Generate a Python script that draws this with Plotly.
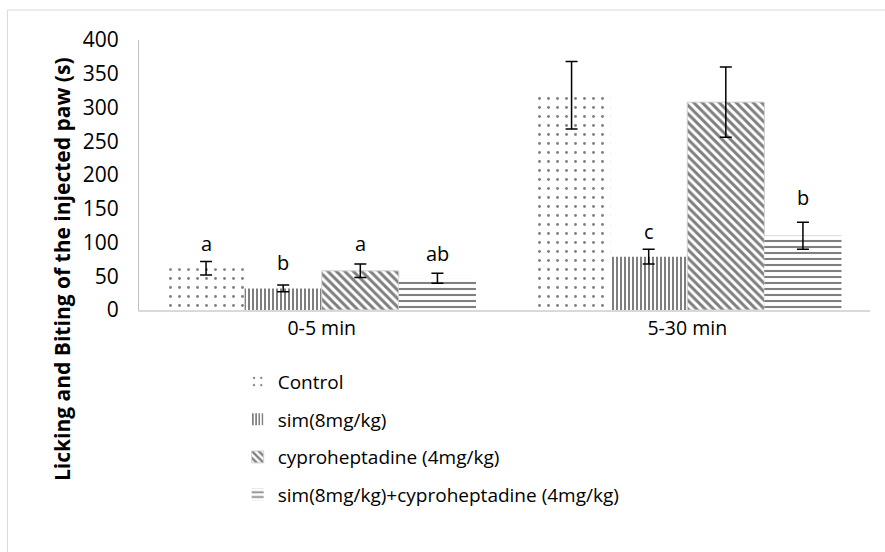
import plotly.graph_objects as go

categories = ["0-5 min", "5-30 min"]
series_names = ["Control", "sim(8mg/kg)", "cyproheptadine (4mg/kg)",
                "sim(8mg/kg)+cyproheptadine (4mg/kg)"]
control = [62, 318]
sim = [32, 79]
cypro = [58, 308]
combo = [47, 110]
control_err = [10, 50]
sim_err = [5, 11]
cypro_err = [10, 52]
combo_err = [7.5, 20]
# significance letters and the heights (data units) where they sit
control_letters = ["a", "a"]
sim_letters = ["b", "c"]
cypro_letters = ["a", "a"]
combo_letters = ["ab", "b"]
control_letter_y = [99, 412]
sim_letter_y = [70, 116]
cypro_letter_y = [99, 412]
combo_letter_y = [84, 166]
y_ticks = [0, 50, 100, 150, 200, 250, 300, 350, 400]

FONT = "Open Sans"
BARGAP = 0.156

values = [control, sim, cypro, combo]
errors = [control_err, sim_err, cypro_err, combo_err]
letters = [control_letters, sim_letters, cypro_letters, combo_letters]
letter_ys = [control_letter_y, sim_letter_y, cypro_letter_y, combo_letter_y]
patterns = [
    dict(shape=".", size=9, solidity=0.08, fgcolor="black", bgcolor="white"),
    dict(shape="|", size=4, solidity=0.5, fgcolor="black", bgcolor="white"),
    dict(shape="\\", size=6, solidity=0.5, fgcolor="black", bgcolor="white"),
    dict(shape="-", size=6, solidity=0.35, fgcolor="black", bgcolor="white"),
]
line_colors = ["white", "white", "#d0d0d0", "white"]

fig = go.Figure()
for i, name in enumerate(series_names):
    fig.add_trace(go.Bar(
        x=categories, y=values[i], name=name,
        marker=dict(color="white", pattern=patterns[i],
                    line=dict(color=line_colors[i], width=1 if i == 2 else 0)),
        error_y=dict(type="data", array=errors[i], visible=True,
                     color="black", thickness=1.5, width=6),
        legendgroup=str(i),
    ))

n = len(series_names)
group_w = 1 - BARGAP
bar_w = group_w / n
annotations = []
for i in range(n):
    for j in range(len(categories)):
        xpos = j - group_w / 2 + (i + 0.5) * bar_w
        annotations.append(dict(x=xpos, y=letter_ys[i][j], xref="x", yref="y",
                                text=letters[i][j], showarrow=False,
                                font=dict(family=FONT, size=20, color="black")))

annotations.append(dict(
    x=-0.106, y=0.15, xref="paper", yref="paper",
    xanchor="center", yanchor="middle",
    text="<b>Licking and Biting of the injected paw (s)</b>",
    textangle=-90, showarrow=False,
    font=dict(family=FONT, size=21, color="black")))

fig.update_layout(
    width=885, height=552,
    margin=dict(l=139, r=15, t=40, b=242),
    paper_bgcolor="white", plot_bgcolor="white",
    barmode="group", bargap=BARGAP, bargroupgap=0,
    font=dict(family=FONT, size=20, color="black"),
    showlegend=True,
    legend=dict(x=0.135, y=-0.195, xanchor="left", yanchor="top",
                orientation="v", traceorder="grouped", tracegroupgap=10,
                font=dict(family=FONT, size=19, color="black"),
                bgcolor="rgba(0,0,0,0)"),
    annotations=annotations,
    shapes=[dict(type="rect", xref="paper", yref="paper",
                 x0=-0.180, x1=1.03, y0=-1.0, y1=1.111,
                 line=dict(color="#d9d9d9", width=1), layer="below")],
)
fig.update_xaxes(showline=True, linecolor="#d9d9d9", linewidth=2,
                 ticks="", showgrid=False, zeroline=False,
                 tickfont=dict(family=FONT, size=19.5))
fig.update_yaxes(range=[0, 400], tickvals=y_ticks, showline=True,
                 linecolor="#bfbfbf", linewidth=1, ticks="",
                 showgrid=False, zeroline=False, ticklabelstandoff=15,
                 tickfont=dict(family=FONT, size=21))

fig.write_html("out.html")
